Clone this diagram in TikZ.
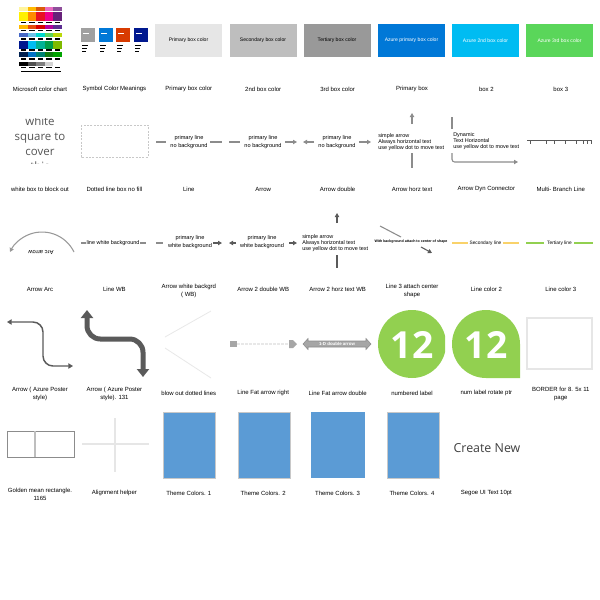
\documentclass[tikz,border=0pt]{standalone}
\usepackage{fontspec}
\setmainfont{Liberation Sans}
\newfontfamily\segoe{Open Sans}
\usetikzlibrary{arrows.meta}
\definecolor{lnA}{HTML}{8C8C8C}
\definecolor{lnD}{HTML}{5A5A5A}
\definecolor{gBa}{HTML}{E6E6E6}
\definecolor{gBb}{HTML}{BEBEBE}
\definecolor{gBc}{HTML}{999999}
\definecolor{azA}{HTML}{0078D7}
\definecolor{azB}{HTML}{00BCF2}
\definecolor{azC}{HTML}{5AD65A}
\definecolor{ylw}{HTML}{F9D26A}
\definecolor{grn}{HTML}{92D050}
\definecolor{thm}{HTML}{5B9BD5}
\definecolor{thmb}{HTML}{C8C8C8}
\definecolor{faint}{HTML}{E8E8E8}
\definecolor{fatc}{HTML}{A6A6A6}
\definecolor{txtg}{HTML}{555555}
\definecolor{crn}{HTML}{404040}
\definecolor{symA}{HTML}{A0A0A0}
\definecolor{symC}{HTML}{D83B01}
\definecolor{symD}{HTML}{00188F}
\begin{document}
\begin{tikzpicture}[x=0.75pt,y=-0.75pt,
  cpt/.style={font=\fontsize{4.5}{6}\selectfont,align=center,inner sep=0pt},
  lt/.style={font=\fontsize{4.2}{6}\selectfont,align=center,inner sep=0pt},
  st/.style={font=\fontsize{4.1}{4.5}\selectfont,align=left,inner sep=0pt,anchor=west},
  gl/.style={draw=lnA,line width=0.8pt},
  dl/.style={draw=lnD,line width=0.8pt},
  tp/.style={-{Triangle[length=3pt,width=3.2pt]}},
  bx/.style={minimum width=50.25pt,minimum height=24.75pt,inner sep=0pt,font=\fontsize{3.8}{4.5}\selectfont},
  thbox/.style={fill=thm,draw=thmb,line width=0.7pt}]
\useasboundingbox (0,0) rectangle (600,600);
\fill[white] (0,0) rectangle (600,600);

% ---------- Row 1 ----------
% Microsoft colour chart
\foreach \ya/\yb/\ca/\cb/\cc/\cd/\ce in {
  6.7/11/FFF59D/FFB900/DA5A0A/EA6BC0/8E4E9A,
  12.3/20.7/FFF100/FF8C00/E81123/EC008C/68217A,
  25/29.3/FFB900/E74C0C/D80000/B4009E/5C2D91,
  32.7/37.3/4668C5/6DC2E9/00D8CC/5DD35D/BAD80A,
  40.7/48.7/00188F/00BCF2/00B294/009E49/7FBA00,
  51.7/57.3/002050/0072C6/008272/107C10/00A300,
  61.7/65.7/000000/505050/7F7F7F/D2D2D2/FFFFFF}{
  \foreach \c [count=\i from 0] in {\ca,\cb,\cc,\cd,\ce}{
    \edef\tmpdef{\noexpand\definecolor{tmpc}{HTML}{\c}}\tmpdef
    \fill[tmpc] (19.3+8.5*\i,\ya) rectangle ++(8.5,\yb-\ya);
  }
}
\foreach \yy/\hh in {21.7/1.5,30/1.2,38.4/1.5,49.3/1.4,58.3/1.6,66.7/1.6}{
  \foreach \i in {0,...,4}{\fill[black] (20.8+8.5*\i,\yy) rectangle ++(5.5,\hh);}
}
\fill[black] (20.7,70.7) rectangle (60.7,72.2);
\node[cpt] (c11) at (40,89) {Microsoft color chart};

% Symbol colour meanings
\foreach \xx/\cc in {81/symA,99/azA,116/symC,134/symD}{
  \fill[\cc] (\xx,28) rectangle ++(14,14);
  \fill[white] (\xx+1.5,32.5) rectangle ++(6,1);
  \foreach \yy/\w in {44.5/6,47.5/5,50.5/4}{\fill[black] (\xx+1,\yy) rectangle ++(\w,1);}
}
\node[cpt] (c12) at (114.4,89) {Symbol Color Meanings};

\node[bx,fill=gBa] (b13) at (188.5,40.5) {Primary box color};
\node[cpt] (c13) at (188.8,89) {Primary box color};
\node[bx,fill=gBb] (b14) at (263,40.5) {Secondary box color};
\node[cpt] (c14) at (263.2,89) {2nd box color};
\node[bx,fill=gBc] (b15) at (337,40.5) {Tertiary box color};
\node[cpt] (c15) at (337.6,89) {3rd box color};
\node[bx,fill=azA,text=white] (b16) at (411.5,40.5) {Azure primary box color};
\node[cpt] (c16) at (412,89) {Primary box};
\node[bx,fill=azB,text=white] (b17) at (485.5,40.5) {Azure 2nd box color};
\node[cpt] (c17) at (486.4,89) {box 2};
\node[bx,fill=azC,text=white] (b18) at (559.5,40.5) {Azure 3rd box color};
\node[cpt] (c18) at (560.8,89) {box 3};

% ---------- Row 2 ----------
\begin{scope}
\clip (0,118) rectangle (80,163);
\foreach \t/\yy in {white/125,square to/140,cover/155,this/170}{
  \node[font=\segoe\fontsize{8.6}{10}\selectfont,text=txtg,anchor=base,inner sep=0pt] at (40,\yy) {\t};
}
\end{scope}
\node[cpt] (c21) at (40,189) {white box to block out};

\draw[draw=thmb,line width=0.6pt,dash pattern=on 1.5pt off 1pt] (81,125) rectangle (148,157);
\node[cpt] (c22) at (114.4,189) {Dotted line box no fill};

\draw[gl] (156,142) -- (166,142);
\node[lt] (t23) at (189,142) {primary line\\no background};
\draw[gl] (210,142) -- (222,142);
\node[cpt] (c23) at (188.8,189) {Line};

\draw[gl] (229,142) -- (240,142);
\node[lt] (t24) at (263,142) {primary line\\no background};
\draw[gl,tp] (285,142) -- (297,142);
\node[cpt] (c24) at (263.2,189) {Arrow};

\draw[gl,tp] (314,142) -- (303,142);
\node[lt] (t25) at (337,142) {primary line\\no background};
\draw[gl,tp] (359,142) -- (371,142);
\node[cpt] (c25) at (337.6,189) {Arrow double};

\draw[gl,tp] (412,124) -- (412,113);
\node[st] (t26) at (378,142) {simple arrow\\Always horizontal text\\use yellow dot to move text};
\draw[gl] (412,153) -- (412,168);
\node[cpt] (c26) at (412,189) {Arrow horz text};

\draw[gl] (452,117) -- (452,129);
\node[st] (t27) at (453,141.5) {Dynamic\\Text Horizontal\\use yellow dot to move text};
\draw[gl,tp,rounded corners=2pt] (452,153) -- (452,162) -- (518,162);
\node[cpt] (c27) at (486.4,189) {Arrow Dyn Connector};

\draw[dl,line width=0.6pt] (527,140) -- (592,140);
\foreach \xx in {530,546,554,565.5,576,583,587.5,591.5}{\draw[dl,line width=0.6pt] (\xx,140) -- (\xx,144);}
\node[cpt] (c28) at (560.8,189) {Multi- Branch Line};

% ---------- Row 3 ----------
\draw[draw=gBc,line width=0.8pt,-{Triangle[length=3pt,width=3.2pt]}] (74,252) arc[start angle=-26,end angle=-154,radius=35.6];
\node[font=\fontsize{4.4}{5}\selectfont,rotate=180,inner sep=0pt] (t31) at (41,252) {Arc arrow};
\node[cpt] (c31) at (40,289) {Arrow Arc};

\draw[gl] (81,243) -- (86,243);
\node[lt,font=\fontsize{4.1}{5}\selectfont] (t32) at (113,243) {line white background};
\draw[gl] (140,243) -- (146,243);
\node[cpt] (c32) at (114.4,289) {Line WB};

\draw[gl] (156,243) -- (163,243);
\node[lt] (t33) at (190,242) {primary line\\white background};
\draw[dl,tp] (213,243) -- (222,243);
\node[cpt] (c33) at (188.8,290.5) {Arrow white backgrd\\( WB)};

\draw[dl,tp] (236,243) -- (229,243);
\node[lt] (t34) at (262,242) {primary line\\white background};
\draw[dl,tp] (289,243) -- (297,243);
\node[cpt] (c34) at (263.2,289) {Arrow 2 double WB};

\draw[dl,tp] (337,223) -- (337,213);
\node[st] (t35) at (302,243.5) {simple arrow\\Always horizontal text\\use yellow dot to move text};
\draw[dl] (337,255) -- (337,268);
\node[cpt] (c35) at (337.6,289) {Arrow 2 horz text WB};

\draw[gl] (380,226) -- (401,237);
\node[font=\bfseries\fontsize{2.7}{3}\selectfont,inner sep=0pt] (t36) at (411,242) {With background attach to center of shape};
\draw[dl,tp] (421,247) -- (432,253);
\node[cpt] (c36) at (412,290.5) {Line 3 attach center\\shape};

\draw[draw=ylw,line width=1.1pt] (452,243) -- (468,243);
\node[font=\fontsize{3.6}{4}\selectfont,inner sep=0pt] (t37) at (485.5,243) {Secondary line};
\draw[draw=ylw,line width=1.1pt] (503,243) -- (519,243);
\node[cpt] (c37) at (486.4,289) {Line color 2};

\draw[draw=grn,line width=1.1pt] (526,243) -- (544,243);
\node[font=\fontsize{3.6}{4}\selectfont,inner sep=0pt] (t38) at (559.5,243) {Tertiary line};
\draw[draw=grn,line width=1.1pt] (574,243) -- (593,243);
\node[cpt] (c38) at (560.8,289) {Line color 3};

% ---------- Row 4 ----------
\draw[draw=lnD,line width=1.1pt,rounded corners=7.5pt,{Triangle[length=3.5pt,width=4pt]}-{Triangle[length=3.5pt,width=4pt]}] (7,322) -- (43,322) -- (43,366) -- (73,366);
\node[cpt] (c41) at (40,393.5) {Arrow ( Azure Poster\\style)};

\draw[draw=lnD,line width=3.75pt,rounded corners=10pt,{Triangle[length=6pt,width=9pt]}-{Triangle[length=6pt,width=9pt]}] (87,310) -- (87,339) -- (143,339) -- (143,377);
\node[cpt] (c42) at (114.4,393.5) {Arrow ( Azure Poster\\style). 131};

\draw[draw=faint,line width=0.6pt] (165,337) -- (211,311);
\draw[draw=faint,line width=0.6pt] (165,348) -- (211,378);
\node[cpt] (c43) at (188.8,393) {blow out dotted lines};

\fill[fatc] (230,341) rectangle (237,347);
\draw[draw=faint,line width=0.8pt,dash pattern=on 2pt off 1pt] (237,344) -- (289,344);
\fill[fatc] (289,340) -- (293,340) -- (297,344) -- (293,348) -- (289,348) -- cycle;
\node[cpt] (c44) at (263.2,393) {Line Fat arrow right};

\filldraw[fill=fatc,draw=lnA,line width=0.4pt] (303,344) -- (308,338.5) -- (308,341) -- (366,341) -- (366,338.5) -- (371,344) -- (366,349.5) -- (366,347) -- (308,347) -- (308,349.5) -- cycle;
\node[font=\bfseries\fontsize{3.3}{4}\selectfont,text=white,inner sep=0pt] (t45) at (337,344) {1-D double arrow};
\node[cpt] (c45) at (337.6,393) {Line Fat arrow double};

\begin{scope}
\clip (378,300) rectangle (445,390);
\fill[grn] (412,344) circle[radius=34];
\end{scope}
\node[font=\segoe\bfseries\fontsize{28}{28}\selectfont,text=white,inner sep=0pt] (t46) at (412,345) {12};
\node[cpt] (c46) at (412,393) {numbered label};

\fill[grn] (520,378) -- (486,378) arc[start angle=90,end angle=360,radius=34] -- cycle;
\node[font=\segoe\bfseries\fontsize{28}{28}\selectfont,text=white,inner sep=0pt] (t47) at (486,345) {12};
\node[cpt] (c47) at (486.4,393) {num label rotate ptr};

\draw[draw=gBa,line width=1.2pt] (527,318) rectangle (592,369);
\node[cpt] (c48) at (560.8,393.5) {BORDER for 8. 5x 11\\page};

% ---------- Row 5 ----------
\draw[draw=lnA,line width=0.7pt] (7,431) rectangle (74,457);
\draw[draw=gBb,line width=1.3pt] (35,431) -- (35,457);
\node[cpt] (c51) at (40,494) {Golden mean rectangle.\\1165};

\draw[draw=gBa,line width=1.3pt] (115,418) -- (115,472);
\draw[draw=gBa,line width=1.3pt] (82,444) -- (149,444);
\node[cpt] (c52) at (114.4,493) {Alignment helper};

\draw[thbox] (163,412) rectangle (215,478);
\node[cpt] (c53) at (188.8,493) {Theme Colors. 1};
\draw[thbox] (238,412) rectangle (290,478);
\node[cpt] (c54) at (263.2,493) {Theme Colors. 2};
\fill[thm] (311,412) rectangle (365,478);
\node[cpt] (c55) at (337.6,493) {Theme Colors. 3};
\draw[thbox] (387,412) rectangle (439,478);
\node[cpt] (c56) at (412,493) {Theme Colors. 4};

\node[font=\segoe\fontsize{9.3}{10}\selectfont,text=crn,inner sep=0pt] (t57) at (487,448) {Create New};
\node[cpt] (c57) at (486.4,493) {Segoe UI Text 10pt};
\end{tikzpicture}
\end{document}
